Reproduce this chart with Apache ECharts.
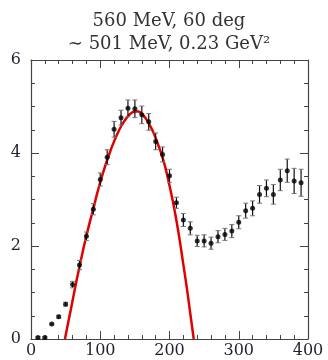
<!DOCTYPE html>
<html><head><meta charset="utf-8">
<script src="https://cdn.jsdelivr.net/npm/echarts@6/dist/echarts.min.js"></script>
<style>html,body{margin:0;padding:0;background:#fff}#c{width:328px;height:360px}</style>
</head><body><div id="c"></div>
<script>
const titleLine1 = "560 MeV, 60 deg";
const titleLine2 = "\u223C 501 MeV, 0.23 GeV\u00B2";
const xTicks = [0, 100, 200, 300, 400];
const yTicks = [0, 2, 4, 6];
const dataX = [10,20,30,40,50,60,70,80,90,100,110,120,130,140,150,160,170,180,190,200,210,220,230,240,250,260,270,280,290,300,310,320,330,340,350,360,370,380,390];
const dataY = [0.03,0.03,0.32,0.48,0.75,1.17,1.59,2.21,2.79,3.43,3.91,4.51,4.76,4.96,4.95,4.82,4.67,4.25,3.97,3.51,2.93,2.56,2.38,2.11,2.11,2.06,2.20,2.25,2.32,2.51,2.76,2.81,3.11,3.24,3.11,3.42,3.62,3.40,3.36];
const dataErr = [0.02,0.02,0.02,0.03,0.04,0.07,0.10,0.09,0.12,0.14,0.16,0.17,0.16,0.18,0.19,0.19,0.18,0.18,0.16,0.14,0.12,0.14,0.14,0.12,0.13,0.13,0.13,0.13,0.14,0.14,0.16,0.16,0.19,0.18,0.21,0.23,0.25,0.27,0.29];
const curveX = [49,55,60,65,70,75,80,85,90,95,100,105,110,115,120,125,130,135,140,145,150,155,160,165,170,175,180,185,190,195,200,205,210,215,220,225,230,235];
const curveY = [0,0.45,0.82,1.2,1.55,1.9,2.22,2.52,2.8,3.1,3.37,3.62,3.85,4.06,4.25,4.42,4.57,4.69,4.79,4.86,4.89,4.89,4.84,4.76,4.64,4.5,4.32,4.12,3.9,3.63,3.3,2.95,2.55,2.1,1.6,1.1,0.55,0];

const font = "'DejaVu Serif','Liberation Serif',serif";
const axisCol = '#444';
const chart = echarts.init(document.getElementById('c'), null, {renderer:'canvas'});
function axisBase(pos, show, isX) {
  return {
    type:'value', position: pos,
    min: 0, max: isX ? 400 : 6, interval: isX ? 100 : 2,
    axisLine:{show:true, onZero:false, lineStyle:{color:axisCol, width:1.2}},
    axisTick:{show:true, inside:true, length:8, lineStyle:{color:axisCol, width:1}},
    minorTick:{show:true, splitNumber: isX ? 5 : 4, length:4, lineStyle:{color:axisCol, width:1}},
    splitLine:{show:false}, minorSplitLine:{show:false},
    axisLabel:{show:show, color:'#1e2230', fontFamily:font, fontSize:16, margin: isX ? 4 : 10,
      formatter: v => String(v)}
  };
}
const xa0 = axisBase('bottom', true, true);
const xa1 = axisBase('top', false, true);
const ya0 = axisBase('left', true, false);
const ya1 = axisBase('right', false, false);
const pts = dataX.map((x,i)=>[x, dataY[i], dataErr[i]]);
const curve = curveX.map((x,i)=>[x, curveY[i]]);
chart.setOption({
  animation:false,
  backgroundColor:'#fff',
  title:[
    {text:titleLine1, left:164, top:6, textAlign:'center', textStyle:{fontFamily:font, fontSize:18, fontWeight:'normal', color:'#333', lineHeight:20}},
    {text:titleLine2, left:164, top:29, textAlign:'center', textStyle:{fontFamily:font, fontSize:18, fontWeight:'normal', color:'#333', lineHeight:20}}
  ],
  grid:{left:31, right:20, top:60, bottom:21, containLabel:false},
  xAxis:[xa0, xa1],
  yAxis:[ya0, ya1],
  series:[
    {type:'line', data:curve, showSymbol:false, smooth:true, lineStyle:{color:'#e00000', width:2.5}, z:2, clip:true},
    {type:'custom', data:pts, z:3, renderItem:function(params, api){
      const x = api.value(0), y = api.value(1), e = api.value(2);
      const top = api.coord([x, y+e]), bot = api.coord([x, y-e]);
      const cw = 2.5;
      return {type:'group', children:[
        {type:'line', shape:{x1:top[0], y1:top[1], x2:bot[0], y2:bot[1]}, style:{stroke:'#111', lineWidth:1.2}},
        {type:'line', shape:{x1:top[0]-cw, y1:top[1], x2:top[0]+cw, y2:top[1]}, style:{stroke:'#777', lineWidth:1}},
        {type:'line', shape:{x1:bot[0]-cw, y1:bot[1], x2:bot[0]+cw, y2:bot[1]}, style:{stroke:'#777', lineWidth:1}}
      ]};
    }, encode:{x:0, y:1}},
    {type:'scatter', data:pts.map(p=>[p[0],p[1]]), symbol:'circle', symbolSize:5, itemStyle:{color:'#000'}, z:4}
  ]
});
</script></body></html>
